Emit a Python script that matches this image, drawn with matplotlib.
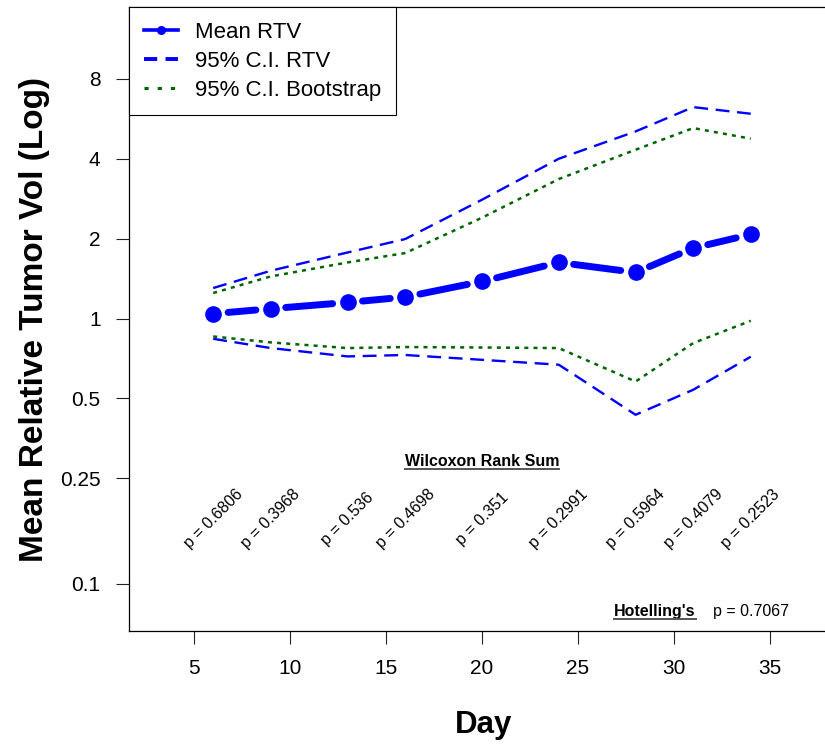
import numpy as np
import matplotlib
matplotlib.use("Agg")
import matplotlib.pyplot as plt
from matplotlib.lines import Line2D
from matplotlib.ticker import FixedLocator, FixedFormatter, NullLocator

plt.rcParams['font.family'] = ['Liberation Sans', 'DejaVu Sans']
plt.rcParams['lines.scale_dashes'] = False

# study days and tumour volume summaries
day = [6, 9, 13, 16, 20, 24, 28, 31, 34]
mean_rtv = [1.043, 1.089, 1.150, 1.205, 1.380, 1.627, 1.492, 1.843, 2.074]
ci_rtv_upper = [1.303, 1.514, 1.774, 1.993, 2.803, 4.00, 5.07, 6.26, 5.91]
ci_rtv_lower = [0.839, 0.774, 0.720, 0.729, 0.699, 0.670, 0.434, 0.539, 0.718]
boot_upper = [1.248, 1.441, 1.627, 1.765, 2.398, 3.354, 4.325, 5.22, 4.76]
boot_lower = [0.856, 0.813, 0.774, 0.781, 0.778, 0.774, 0.579, 0.808, 0.981]

# Wilcoxon rank sum p-values per day, Hotelling's overall p-value
wilcoxon_p = ['0.6806', '0.3968', '0.536', '0.4698', '0.351',
              '0.2991', '0.5964', '0.4079', '0.2523']
hotelling_p = '0.7067'

y_ticks = [0.1, 0.25, 0.5, 1, 2, 4, 8]
y_ticklabels = ['0.1', '0.25', '0.5', '1', '2', '4', '8']
x_ticks = [5, 10, 15, 20, 25, 30, 35]

W, H = 825, 744
fig = plt.figure(figsize=(W / 100, H / 100), dpi=100)
ax = fig.add_axes([129 / W, (H - 631) / H, (827 - 129) / W, (631 - 7) / H])
ax.set_yscale('log')
ax.set_xlim(1.615, 37.97)
ax.set_ylim(0.0665, 14.92)

blue = '#0000ff'
green = '#006400'

# confidence bands
ax.plot(day, ci_rtv_upper, color=blue, lw=1.7, linestyle=(0, (10, 5.5)))
ax.plot(day, ci_rtv_lower, color=blue, lw=1.7, linestyle=(0, (10, 5.5)))
ax.plot(day, boot_upper, color=green, lw=1.8, linestyle=(0, (2.9, 3.7)))
ax.plot(day, boot_lower, color=green, lw=1.8, linestyle=(0, (2.9, 3.7)))

# mean line drawn R type="b" style: segments stop short of the points
gap = 15.0
pts = ax.transData.transform(np.column_stack([day, mean_rtv]))
inv = ax.transData.inverted()
for (x0, y0), (x1, y1) in zip(pts[:-1], pts[1:]):
    d = np.hypot(x1 - x0, y1 - y0)
    ux, uy = (x1 - x0) / d, (y1 - y0) / d
    seg = inv.transform([[x0 + ux * gap, y0 + uy * gap],
                         [x1 - ux * gap, y1 - uy * gap]])
    ax.plot(seg[:, 0], seg[:, 1], color=blue, lw=5, solid_capstyle='round')
ax.plot(day, mean_rtv, 'o', color=blue, ms=12, mew=0)

# axes styling
ax.yaxis.set_major_locator(FixedLocator(y_ticks))
ax.yaxis.set_major_formatter(FixedFormatter(y_ticklabels))
ax.yaxis.set_minor_locator(NullLocator())
ax.set_xticks(x_ticks)
ax.set_xticklabels([str(t) for t in x_ticks])
ax.tick_params(direction='out', length=9.5, width=0.8, pad=11,
               labelsize=15, color='#222222')
for s in ax.spines.values():
    s.set_linewidth(0.9)
    s.set_color('black')

fig.text(35 / W, 1 - 319.5 / H, 'Mean Relative Tumor Vol (Log)', rotation=90,
         ha='center', va='center', fontsize=24, fontweight='bold')
fig.text(484 / W, 1 - 733.3 / H, 'Day', ha='center', va='baseline',
         fontsize=22.5, fontweight='bold')

# p-value annotations
for d, p in zip(day, wilcoxon_p):
    ax.text(d, 0.176, 'p = ' + p, rotation=45, ha='center', va='center',
            fontsize=11.5)
t_wil = ax.text(20, 0.2896, 'Wilcoxon Rank Sum', ha='center', va='center',
                fontsize=11.5, fontweight='bold')
t_hot = ax.text(29.0, 0.0787, "Hotelling's", ha='center', va='center',
                fontsize=11.5, fontweight='bold')
ax.text(34.0, 0.0787, 'p = ' + hotelling_p, ha='center', va='center',
        fontsize=11.5)

handles = [
    Line2D([], [], color=blue, lw=2.6, marker='o', ms=5.5),
    Line2D([], [], color=blue, lw=2.8, linestyle=(0, (9.5, 6))),
    Line2D([], [], color=green, lw=2.2, linestyle=(0, (3, 6.5))),
]
leg = ax.legend(handles, ['Mean RTV', '95% C.I. RTV', '95% C.I. Bootstrap'],
                loc='upper left', bbox_to_anchor=(0, 1), borderaxespad=0,
                fontsize=16, frameon=True, fancybox=False, framealpha=1,
                edgecolor='black', borderpad=0.66, labelspacing=0.36,
                handlelength=1.55, handletextpad=0.77)
leg.get_frame().set_linewidth(0.8)

# underline the bold headings
renderer = fig.canvas.get_renderer()
for t in (t_wil, t_hot):
    bb = t.get_window_extent(renderer)
    (fx0, fy), (fx1, _) = fig.transFigure.inverted().transform(
        [[bb.x0, bb.y0], [bb.x1, bb.y0]])
    fig.add_artist(Line2D([fx0, fx1], [fy, fy], color='#555555', lw=1.4,
                          transform=fig.transFigure))

fig.savefig('out.png', dpi=100)
